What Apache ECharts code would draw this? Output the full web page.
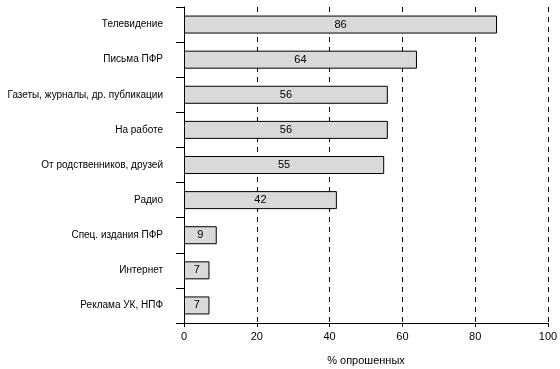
<!DOCTYPE html>
<html>
<head>
<meta charset="utf-8">
<script src="https://cdn.jsdelivr.net/npm/echarts@6/dist/echarts.min.js"></script>
<style>html,body{margin:0;padding:0;background:#fff}#c{width:560px;height:369px}</style>
</head>
<body>
<div id="c"></div>
<script>
var categories = ['Телевидение','Письма ПФР','Газеты, журналы, др. публикации','На работе','От родственников, друзей','Радио','Спец. издания ПФР','Интернет','Реклама УК, НПФ'];
var values = [86, 64, 56, 56, 55, 42, 9, 7, 7];
var xTicks = [0, 20, 40, 60, 80, 100];
var xName = '% опрошенных';
var FONT = '"Liberation Sans Narrow", "Liberation Sans", Arial, sans-serif';
var chart = echarts.init(document.getElementById('c'), null, {renderer: 'canvas'});
chart.setOption({
  animation: false,
  grid: {left: 184, right: 12, top: 7, bottom: 46, containLabel: false, outerBoundsMode: 'none'},
  xAxis: {
    type: 'value', min: 0, max: 100, interval: 20,
    name: xName, nameLocation: 'middle', nameGap: 32,
    nameTextStyle: {fontFamily: FONT, fontSize: 11, color: '#000'},
    axisLine: {show: true, lineStyle: {color: '#000', width: 1}},
    axisTick: {show: true, length: 4, lineStyle: {color: '#000'}},
    axisLabel: {fontFamily: FONT, fontSize: 11, color: '#000', margin: 8,
      formatter: function (v) { return xTicks.indexOf(v) >= 0 ? String(v) : ''; }},
    splitLine: {show: true, lineStyle: {color: '#000', type: [5, 5], width: 1}}
  },
  yAxis: {
    type: 'category', data: categories, inverse: true,
    axisLine: {show: true, lineStyle: {color: '#000', width: 1}},
    axisTick: {show: true, length: 8, lineStyle: {color: '#000'}},
    axisLabel: {fontFamily: FONT, fontSize: 10, color: '#000', margin: 21},
    splitLine: {show: false}
  },
  series: [{
    type: 'bar', data: values, barWidth: 18,
    itemStyle: {color: '#d9d9d9', borderColor: '#000', borderWidth: 1},
    label: {show: true, position: 'inside', fontFamily: FONT, fontSize: 11, color: '#000'}
  }]
});
</script>
</body>
</html>
